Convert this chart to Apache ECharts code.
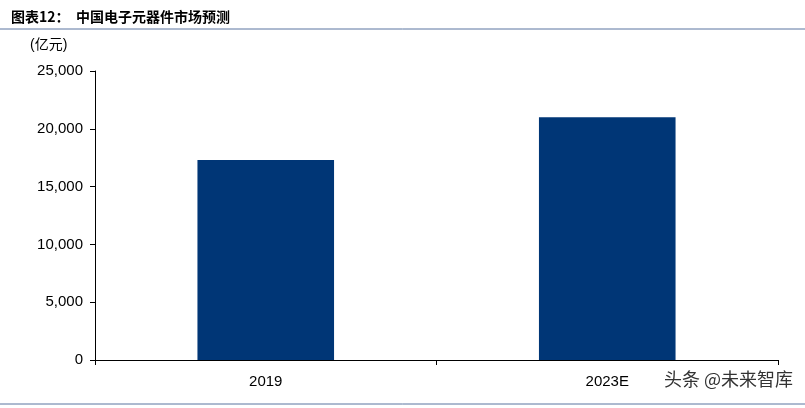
<!DOCTYPE html>
<html><head><meta charset="utf-8">
<script src="https://cdn.jsdelivr.net/npm/echarts@6/dist/echarts.min.js"></script>
<style>body{margin:0}#main{width:805px;height:408px}</style>
</head><body><div id="main"></div>
<script>
var categories = ['2019', '2023E'];
var values = [17300, 21000];
var myChart = echarts.init(document.getElementById('main'));
var font = 'Liberation Sans, Noto Sans CJK SC, sans-serif';
option = {
	animation: false,
	backgroundColor: '#fff',
	color: ['#003676'],
	title: {
		text: '图表12：  中国电子元器件市场预测',
		left: 6, top: 5,
		textStyle: { fontSize: 14, fontWeight: 'bold', color: '#000', fontFamily: 'Noto Sans CJK SC' }
	},
	graphic: [
		{ type: 'line', shape: { x1: 0, y1: 29, x2: 805, y2: 29 }, style: { stroke: '#5a74a0', lineWidth: 1 } },
		{ type: 'line', shape: { x1: 0, y1: 404, x2: 805, y2: 404 }, style: { stroke: '#5a74a0', lineWidth: 1 } },
		{ type: 'text', left: 30, top: 38, style: { text: '(亿元)', fontSize: 14, fill: '#000', fontFamily: font } },
		{ type: 'text', right: 12, top: 370, style: { text: '头条 @未来智库', fontSize: 18, fill: '#333', fontFamily: 'Noto Sans CJK SC' } }
	],
	grid: { left: 95, right: 27, top: 71, bottom: 48 },
	xAxis: {
		type: 'category',
		data: categories,
		axisLine: { lineStyle: { color: '#000' } },
		axisTick: { show: true, length: 5, lineStyle: { color: '#000' } },
		axisLabel: { color: '#000', fontSize: 15, fontFamily: font, margin: 14 }
	},
	yAxis: {
		type: 'value', min: 0, max: 25000, interval: 5000,
		axisLine: { show: true, lineStyle: { color: '#000' } },
		axisTick: { show: true, length: 5, lineStyle: { color: '#000' } },
		splitLine: { show: false },
		axisLabel: {
			color: '#000', fontSize: 15, fontFamily: font, margin: 12,
			formatter: function (v) { return v.toLocaleString('en-US'); }
		}
	},
	series: [{ type: 'bar', barWidth: '40%', data: values }]
};
myChart.setOption(option);
</script></body></html>
